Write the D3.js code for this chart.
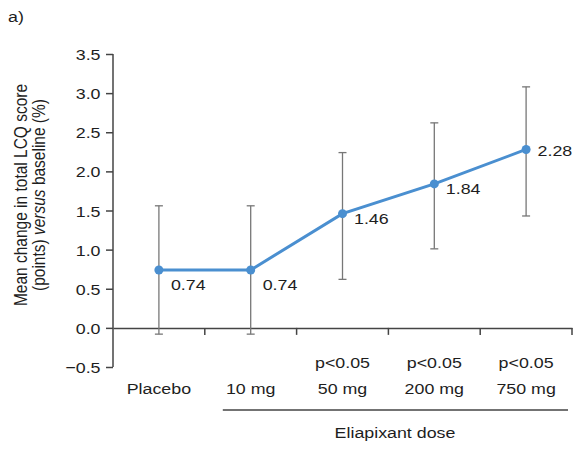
<!DOCTYPE html>
<html><head><meta charset="utf-8">
<script src="https://cdn.jsdelivr.net/npm/d3@7"></script>
<style>body{margin:0;background:#fff}text{font-family:"Liberation Sans",Arial,sans-serif;fill:#1e1e1e}</style>
</head><body><svg id="c" width="580" height="450"></svg>
<script>
const categories = ["Placebo","10 mg","50 mg","200 mg","750 mg"];
const pvalues = ["","","p<0.05","p<0.05","p<0.05"];
const means = [0.74,0.74,1.46,1.84,2.28];
const meanLabels = ["0.74","0.74","1.46","1.84","2.28"];
const lower = [-0.08,-0.08,0.62,1.01,1.43];
const upper = [1.56,1.56,2.24,2.62,3.08];
const yTicks = [-0.5,0,0.5,1,1.5,2,2.5,3,3.5];

const svg = d3.select("#c");
const x = d3.scaleBand().domain(categories).range([113,572]).padding(0);
const y = d3.scaleLinear().domain([-0.5,3.5]).range([367,54]);
const fs = 15.5, SX = 1.15;
const grey = "#444";
const cxOf = c => x(c)+x.bandwidth()/2;

function htext(g, tx, ty, str, anchor){
  return g.append("text").attr("transform",`translate(${tx},${ty}) scale(${SX},1)`)
    .attr("text-anchor",anchor||"start").attr("font-size",fs).text(str);
}

// y axis
const ya = svg.append("g").attr("transform","translate(113,0)")
  .call(d3.axisLeft(y).tickValues(yTicks).tickSize(7).tickFormat(d=>d<0?"\u22120.5":d3.format(".1f")(d)));
ya.select(".domain").attr("stroke",grey).attr("stroke-width",1.5).attr("d",`M0,${y(3.5)}V${y(-0.5)}`);
ya.selectAll(".tick line").attr("stroke",grey).attr("stroke-width",1.5);
ya.selectAll(".tick text").attr("x",null).attr("dy",null)
  .attr("transform","translate(-12.5,5.5) scale("+SX+",1)")
  .attr("font-size",fs).attr("fill","#1e1e1e").attr("font-family","Liberation Sans, Arial");

// x axis at zero
const xa = svg.append("g").attr("transform",`translate(0,${y(0)})`)
  .call(d3.axisBottom(x).tickSize(0).tickFormat(""));
xa.select(".domain").attr("stroke",grey).attr("stroke-width",1.5);
xa.selectAll(".tick").remove();
const bounds = categories.map(c=>x(c)+x.bandwidth());
xa.selectAll("line.sep").data(bounds).enter().append("line")
  .attr("x1",d=>d).attr("x2",d=>d).attr("y1",0).attr("y2",7)
  .attr("stroke",grey).attr("stroke-width",1.5);

// error bars
const eb = svg.append("g");
categories.forEach((c,i)=>{
  const cx = cxOf(c);
  eb.append("line").attr("x1",cx).attr("x2",cx).attr("y1",y(lower[i])).attr("y2",y(upper[i])).attr("stroke","#777").attr("stroke-width",1.3);
  [lower[i],upper[i]].forEach(v=>eb.append("line").attr("x1",cx-4).attr("x2",cx+4).attr("y1",y(v)).attr("y2",y(v)).attr("stroke","#777").attr("stroke-width",1.3));
});

// line
const line = d3.line().x((d,i)=>cxOf(categories[i])).y(d=>y(d));
svg.append("path").datum(means).attr("d",line).attr("fill","none").attr("stroke","#4a8fd0").attr("stroke-width",3);
svg.selectAll("circle.pt").data(means).enter().append("circle")
  .attr("cx",(d,i)=>cxOf(categories[i])).attr("cy",d=>y(d)).attr("r",4.5).attr("fill","#4a8fd0");

// value labels
means.forEach((d,i)=>{
  const dy = i<2 ? 20 : (i<4 ? 10 : 7);
  const dx = i<2 ? 12 : 11.5;
  htext(svg, cxOf(categories[i])+dx, y(d)+dy, meanLabels[i]);
});

// category labels
categories.forEach((c,i)=>{
  htext(svg, cxOf(c), 394, c, "middle");
  if (pvalues[i]) htext(svg, cxOf(c), 368, pvalues[i], "middle");
});
svg.append("line").attr("x1",x("10 mg")+18).attr("x2",x("750 mg")+x.bandwidth()-4).attr("y1",410).attr("y2",410).attr("stroke",grey).attr("stroke-width",1.5);
htext(svg, 395, 438, "Eliapixant dose", "middle");

// y title
const yt = svg.append("text").attr("transform",`translate(0,195) scale(${SX},1) rotate(-90)`).attr("text-anchor","middle").attr("font-size",fs);
yt.append("tspan").attr("x",0).attr("y",23.5).text("Mean change in total LCQ score");
const t2 = yt.append("tspan").attr("x",0).attr("y",39);
t2.append("tspan").text("(points) ");
t2.append("tspan").attr("font-style","italic").text("versus");
t2.append("tspan").text(" baseline (%)");

htext(svg, 8, 22, "a)");
</script></body></html>
